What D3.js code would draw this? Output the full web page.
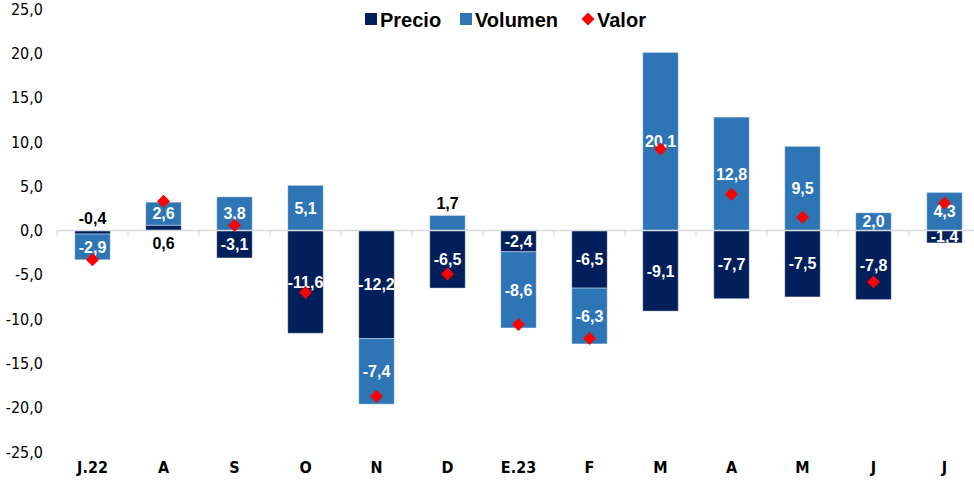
<!DOCTYPE html>
<html>
<head>
<meta charset="utf-8">
<script src="https://cdn.jsdelivr.net/npm/d3@7"></script>
<style>
  body { margin: 0; background: #fff; }
  svg { display: block; }
</style>
</head>
<body>
<svg id="chart" width="974" height="484"></svg>
<script>
// Data
const categories = ["J.22", "A", "S", "O", "N", "D", "E.23", "F", "M", "A", "M", "J", "J"];
const precio = [-0.4, 0.6, -3.1, -11.6, -12.2, -6.5, -2.4, -6.5, -9.1, -7.7, -7.5, -7.8, -1.4];
const volumen = [-2.9, 2.6, 3.8, 5.1, -7.4, 1.7, -8.6, -6.3, 20.1, 12.8, 9.5, 2.0, 4.3];
const valor = [-3.3, 3.3, 0.6, -7.0, -18.7, -4.9, -10.6, -12.2, 9.2, 4.1, 1.5, -5.8, 3.1];
const yTicks = [-25, -20, -15, -10, -5, 0, 5, 10, 15, 20, 25];

// labels that sit outside the bar (black text)
const outsideLabels = [
  { key: "precio", i: 0, side: "above" },
  { key: "precio", i: 1, side: "below" },
  { key: "volumen", i: 5, side: "above" },
];

const colors = { precio: "#001f5b", volumen: "#2e75b6", valor: "#ff0000" };
const fmt = (v) => d3.format(".1f")(v).replace(".", ",").replace("−", "-");

const rows = categories.map((c, i) => ({ i, precio: precio[i], volumen: volumen[i] }));
const series = d3.stack()
  .keys(["precio", "volumen"])
  .offset(d3.stackOffsetDiverging)(rows);

const x = d3.scaleBand()
  .domain(categories.map((c, i) => i))
  .range([57, 980])
  .paddingInner(0.5)
  .paddingOuter(0.25);

const y = d3.scaleLinear().domain([-25, 25]).range([452, 9]);

const svg = d3.select("#chart");

// y axis labels (no line)
const yAxis = svg.append("g")
  .attr("transform", "translate(43,0)")
  .call(d3.axisLeft(y).tickValues(yTicks).tickSize(0).tickPadding(0).tickFormat(fmt));
yAxis.select(".domain").remove();
yAxis.selectAll("text")
  .attr("font-family", "'Liberation Sans Narrow', 'DejaVu Sans Condensed', sans-serif")
  .attr("font-size", 16)
  .attr("fill", "#000");

// bars
const groups = svg.append("g")
  .selectAll("g")
  .data(series)
  .join("g")
  .attr("fill", (s) => colors[s.key]);

groups.selectAll("rect")
  .data((s) => s)
  .join("rect")
  .attr("x", (d) => x(d.data.i))
  .attr("y", (d) => y(Math.max(d[0], d[1])))
  .attr("width", x.bandwidth())
  .attr("height", (d) => Math.abs(y(d[0]) - y(d[1])))
  .attr("stroke", "rgba(255,255,255,0.4)")
  .attr("stroke-width", 1);

// zero line with ticks at category boundaries
const bottom = svg.append("g").attr("transform", `translate(0,${y(0)})`);
const step = x.step();
const edges = d3.range(categories.length + 1).map((k) => 57 + k * step);
bottom.append("line")
  .attr("x1", 57).attr("x2", 974)
  .attr("stroke", "#d9d9d9").attr("stroke-width", 1.3);
bottom.selectAll(".tk")
  .data(edges)
  .join("line")
  .attr("class", "tk")
  .attr("x1", (d) => d).attr("x2", (d) => d)
  .attr("y1", 0).attr("y2", 5)
  .attr("stroke", "#d9d9d9").attr("stroke-width", 1.3);

// category labels
const xAxis = svg.append("g")
  .attr("transform", "translate(0,467)")
  .call(d3.axisBottom(x).tickSize(0).tickPadding(0).tickFormat((i) => categories[i]));
xAxis.select(".domain").remove();
xAxis.selectAll("text")
  .attr("dy", "0.35em")
  .attr("font-family", "'Liberation Sans Narrow', 'DejaVu Sans Condensed', sans-serif")
  .attr("font-weight", "bold")
  .attr("font-size", 16)
  .attr("fill", "#000");

// bar labels
const labels = [];
series.forEach((s) => {
  s.forEach((d) => {
    const v = d.data[s.key];
    const out = outsideLabels.find((o) => o.key === s.key && o.i === d.data.i);
    let ly = y((d[0] + d[1]) / 2);
    if (out) {
      const lo = d3.min(series, (ss) => Math.min(ss[d.data.i][0], ss[d.data.i][1]));
      const hi = d3.max(series, (ss) => Math.max(ss[d.data.i][0], ss[d.data.i][1]));
      ly = out.side === "above" ? y(hi) - 12 : y(lo) + 13;
    }
    labels.push({ x: x(d.data.i) + x.bandwidth() / 2, y: ly, text: fmt(v), fill: out ? "#000" : "#fff" });
  });
});

svg.append("g")
  .selectAll("text")
  .data(labels)
  .join("text")
  .attr("x", (d) => d.x)
  .attr("y", (d) => d.y)
  .attr("dy", "0.36em")
  .attr("text-anchor", "middle")
  .attr("font-family", "'Liberation Sans', Arial, sans-serif")
  .attr("font-weight", "bold")
  .attr("font-size", 16)
  .attr("fill", (d) => d.fill)
  .text((d) => d.text);

// valor diamonds
const diamond = d3.symbol().type(d3.symbolSquare).size(84);
svg.append("g")
  .selectAll("path")
  .data(valor)
  .join("path")
  .attr("d", diamond)
  .attr("transform", (v, i) => `translate(${x(i) + x.bandwidth() / 2},${y(v)}) rotate(45)`)
  .attr("fill", colors.valor);

// legend
const legend = svg.append("g").attr("font-family", "'Liberation Sans', Arial, sans-serif")
  .attr("font-weight", "bold").attr("font-size", 20);
const items = [
  { key: "precio", label: "Precio", x: 365, shape: "rect" },
  { key: "volumen", label: "Volumen", x: 460, shape: "rect" },
  { key: "valor", label: "Valor", x: 582, shape: "diamond" },
];
items.forEach((it) => {
  if (it.shape === "rect") {
    legend.append("rect").attr("x", it.x).attr("y", 13).attr("width", 12).attr("height", 12)
      .attr("fill", colors[it.key]);
  } else {
    legend.append("path").attr("d", diamond)
      .attr("transform", `translate(${it.x + 6},19) rotate(45)`)
      .attr("fill", colors[it.key]);
  }
  legend.append("text").attr("x", it.x + 15).attr("y", 26.5).text(it.label).attr("fill", "#000");
});
</script>
</body>
</html>
